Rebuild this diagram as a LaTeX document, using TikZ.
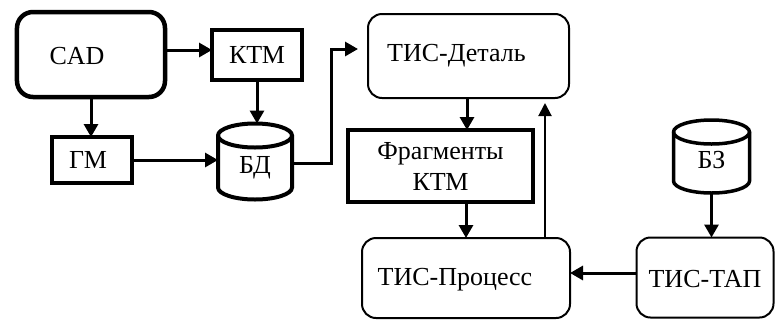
\documentclass[tikz,border=0pt]{standalone}
\usepackage{fontspec}
\setmainfont{Liberation Serif}
\usetikzlibrary{arrows.meta,calc}
\tikzset{
  every node/.style={font=\fontsize{26bp}{31bp}\selectfont, inner sep=0pt, outer sep=0pt},
  rbox/.style={draw, rounded corners=14bp, line width=2bp},
  thickrbox/.style={draw, rounded corners=16bp, line width=4.5bp},
  sqbox/.style={draw, line width=4.5bp},
  cylnode/.style={minimum width=74bp, minimum height=76bp},
  conn/.style={line width=3bp, -{Triangle[length=13bp,width=14bp]}},
  thinconn/.style={line width=2bp, -{Triangle[length=13bp,width=13bp]}},
}
\newcommand{\cyldraw}[3]{% node, rx, line width
  \draw[line width=#3] ([yshift=-12bp]#1.north west) -- ([yshift=12bp]#1.south west)
    arc[start angle=180,end angle=360,x radius=#2,y radius=12bp]
    -- ([yshift=-12bp]#1.north east)
    arc[start angle=0,end angle=180,x radius=#2,y radius=12bp] -- cycle;
  \draw[line width=#3] ([yshift=-12bp]#1.north west)
    arc[start angle=180,end angle=360,x radius=#2,y radius=12bp];
}
\begin{document}
\begin{tikzpicture}[x=1bp,y=1bp]
\useasboundingbox (0,0) rectangle (776,-320);
% nodes
\node[thickrbox, minimum width=148bp, minimum height=85bp,
      label={[xshift=-14bp,yshift=-2bp]center:CAD}] (cad) at (91,-54.5) {};
\node[sqbox, minimum width=90bp, minimum height=50bp] (ktm) at (257,-55) {КТМ};
\node[sqbox, line width=3.5bp, minimum width=80bp, minimum height=46bp,
      label={[xshift=-4bp]center:ГМ}] (gm) at (92,-160) {};
\node[cylnode, label={[yshift=-6bp]center:БД}] (bd) at (255,-161.5) {};
\node[rbox, minimum width=201bp, minimum height=84bp,
      label={[xshift=-12bp]center:ТИС-Деталь}] (tisd) at (468.5,-56) {};
\node[sqbox, minimum width=185bp, minimum height=72bp, align=center] (frag) at (440.5,-166) {Фрагменты\\КТМ};
\node[rbox, minimum width=208bp, minimum height=80bp,
      label={[xshift=-11bp,yshift=-2bp]center:ТИС-Процесс}] (tisp) at (466,-278) {};
\node[rbox, minimum width=137bp, minimum height=80bp,
      label={[yshift=-2bp]center:ТИС-ТАП}] (tistap) at (705,-277.5) {};
\node[cylnode, minimum width=76bp, minimum height=73bp, label={[yshift=-4bp]center:БЗ}] (bz) at (711.5,-156.5) {};
% cylinders
\cyldraw{bd}{37bp}{4bp}
\cyldraw{bz}{38bp}{3.5bp}
% connectors
\draw[conn] ([yshift=4.5bp]cad.east) -- ([yshift=4.5bp]cad.east -| ktm.west);
\draw[conn] (cad.south) -- (cad.south |- gm.north);
\draw[conn] (ktm.south) -- (ktm.south |- bd.north);
\draw[conn] (gm.east) -- (gm.east -| bd.west);
\draw[conn] ([yshift=-1.5bp]bd.east) -- ++(39,0) |- ([xshift=-10bp,yshift=7bp]tisd.west);
\draw[conn] ([xshift=-1.5bp]tisd.south) -- ([xshift=-1.5bp]tisd.south |- frag.north);
\draw[conn] (tisp.north |- frag.south) -- (tisp.north);
\draw[thinconn] ([xshift=79bp]tisp.north) -- ([xshift=79bp,yshift=-5bp]tisp.north |- tisd.south);
\draw[conn] (bz.south) -- (bz.south |- tistap.north);
\draw[conn] ([yshift=4.5bp]tistap.west) -- ([yshift=4.5bp]tistap.west -| tisp.east);
\end{tikzpicture}
\end{document}
